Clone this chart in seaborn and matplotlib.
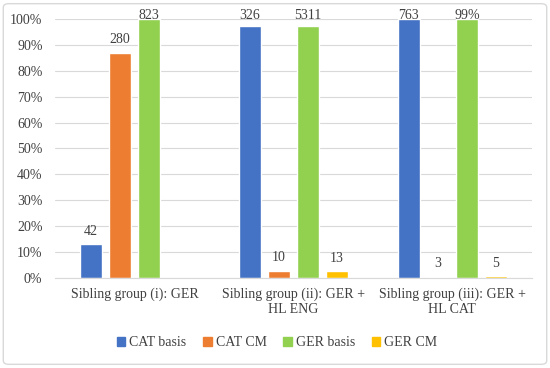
import matplotlib.pyplot as plt
import matplotlib.patches as mpatches
from matplotlib.ticker import PercentFormatter
import pandas as pd
import seaborn as sns

groups = ["Sibling group (i): GER",
          "Sibling group (ii): GER +\nHL ENG",
          "Sibling group (iii): GER +\nHL CAT"]
series = ["CAT basis", "CAT CM", "GER basis", "GER CM"]
colors = ["#4472C4", "#ED7D31", "#92D050", "#FFC000"]

# share per series, one entry per group
cat_basis = [0.129, 0.973, 0.999]
cat_cm = [0.871, 0.028, 0.004]
ger_basis = [1.0, 0.975, 0.999]
ger_cm = [0.0, 0.026, 0.006]

# data labels shown above the bars
lab_cat_basis = ["42", "326", "763"]
lab_cat_cm = ["280", "10", "3"]
lab_ger_basis = ["823", "5311", "99%"]
lab_ger_cm = ["", "13", "5"]

values = [cat_basis, cat_cm, ger_basis, ger_cm]
labels = [lab_cat_basis, lab_cat_cm, lab_ger_basis, lab_ger_cm]

rows = []
for s, vals in zip(series, values):
    for g, v in zip(groups, vals):
        rows.append({"group": g, "series": s, "share": v})
df = pd.DataFrame(rows)

sns.set_theme(style="white")
plt.rcParams["font.family"] = ["Liberation Serif", "DejaVu Serif"]

fig = plt.figure(figsize=(5.5, 3.68), dpi=100)
ax = fig.add_axes([0.1, 0.245, 0.867, 0.703])

sns.barplot(data=df, x="group", y="share", hue="series", palette=colors,
            hue_order=series, order=groups, width=0.73, gap=0.22,
            saturation=1, legend=True, ax=ax)

ax.set_ylim(0, 1)
ax.set_yticks([i / 10 for i in range(11)])
ax.yaxis.set_major_formatter(PercentFormatter(1.0, decimals=0))
ax.grid(axis="y", color="#d9d9d9", linewidth=0.8)
ax.set_axisbelow(True)
for sp in ["top", "left", "right"]:
    ax.spines[sp].set_visible(False)
ax.spines["bottom"].set_color("#d9d9d9")
ax.spines["bottom"].set_linewidth(0.8)
ax.tick_params(axis="both", length=0, labelsize=10, colors="#404040")
ax.tick_params(axis="y", pad=9)
ax.tick_params(axis="x", pad=7)
ax.set_xlabel("")
ax.set_ylabel("")

for cont, labs in zip(ax.containers, labels):
    for patch, lab in zip(cont.patches, labs):
        if not lab:
            continue
        h = patch.get_height()
        x = patch.get_x() + patch.get_width() / 2
        y = min(h + 0.05, 1.015)
        ax.text(x, y, lab, ha="center", va="center", fontsize=10,
                color="#404040", clip_on=False)

handles = [mpatches.Patch(color=c) for c in colors]
ax.legend(handles, series, loc="center", bbox_to_anchor=(0.504, 0.069),
          bbox_transform=fig.transFigure, ncol=4, frameon=False,
          fontsize=10, handlelength=0.6, handleheight=0.6,
          handletextpad=0.3, columnspacing=1.2, labelcolor="#404040")

border = mpatches.FancyBboxPatch((0.006, 0.01), 0.988, 0.98,
                                 boxstyle="round,pad=0,rounding_size=0.01",
                                 transform=fig.transFigure, fill=False,
                                 edgecolor="#d9d9d9", linewidth=1)
fig.patches.append(border)

fig.savefig("out.png", dpi=100)
